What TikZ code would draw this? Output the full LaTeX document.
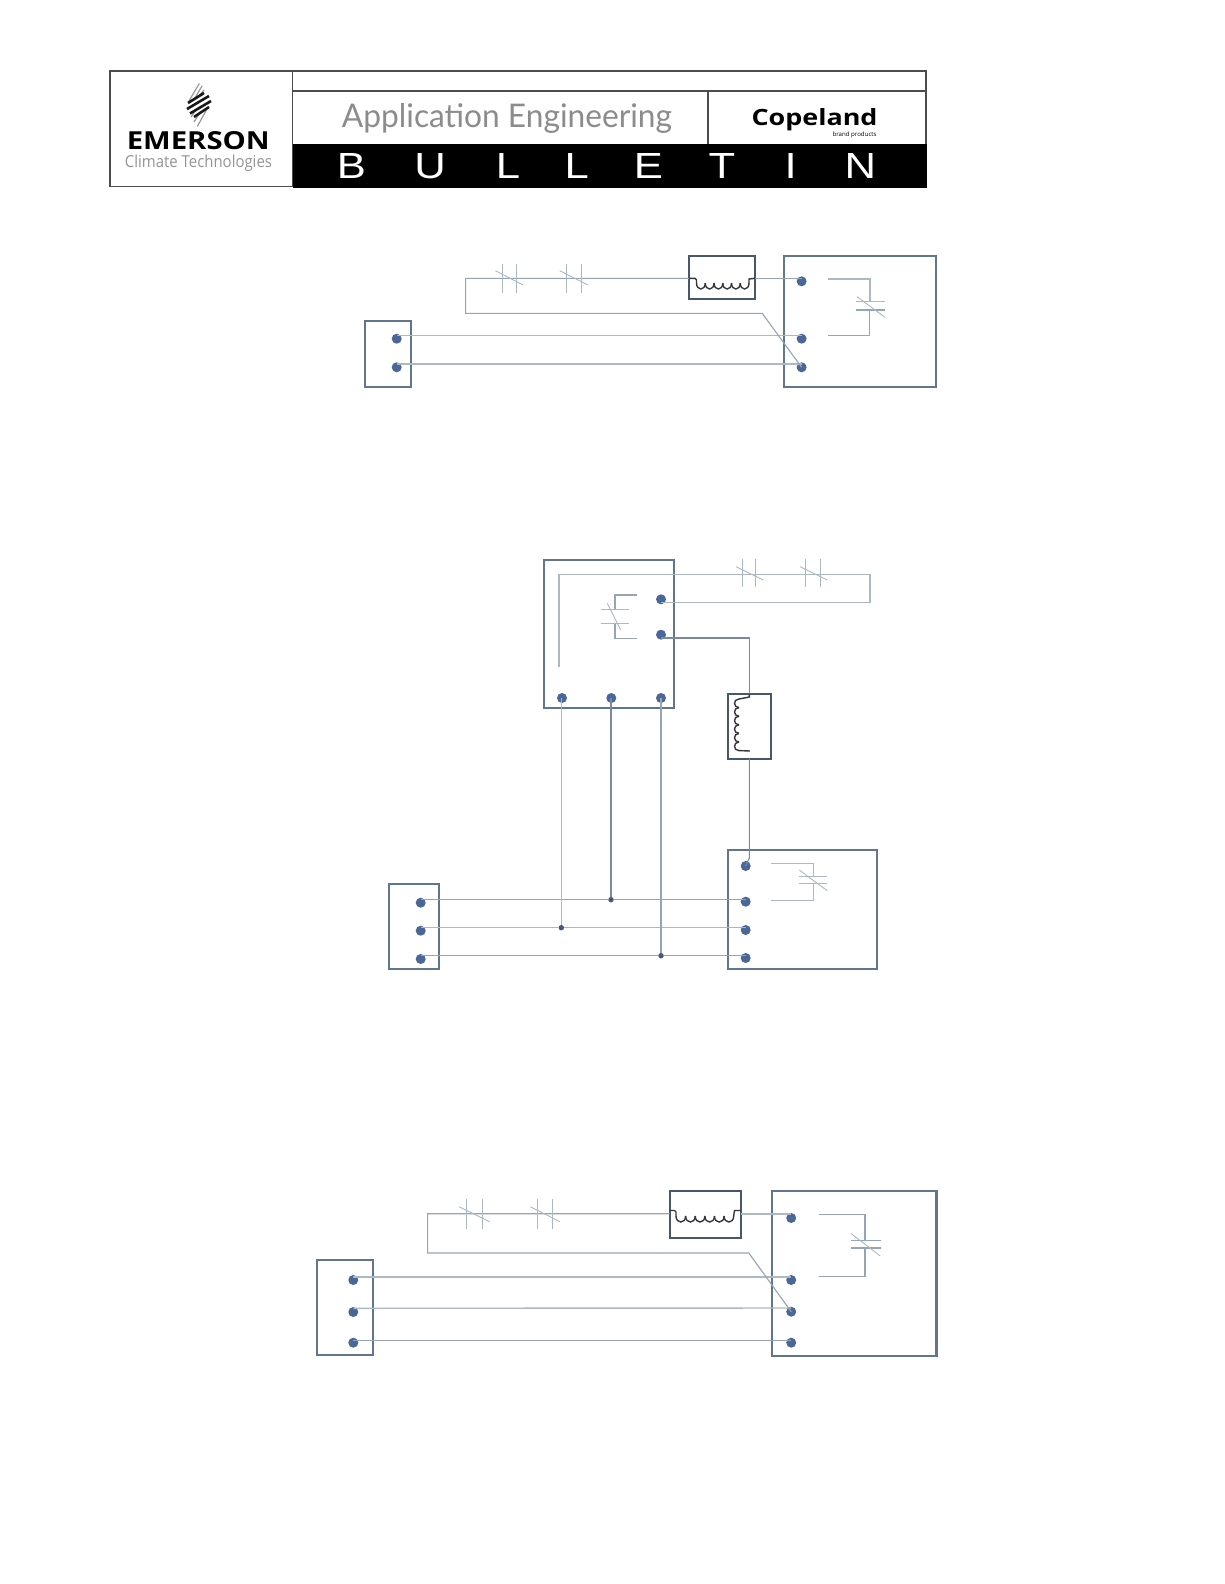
\documentclass[tikz,border=0pt]{standalone}
\usepackage{fontspec}
\setmainfont{Liberation Sans}
\newfontfamily\headfont{Open Sans}
\newfontfamily\lightfont{Lato}
\definecolor{frameblue}{HTML}{5F7590}
\definecolor{wireblue}{HTML}{ABB9C4}
\definecolor{dotblue}{HTML}{4A6798}
\definecolor{juncblue}{HTML}{47597A}
\definecolor{coildark}{HTML}{33373D}
\tikzset{
  boxframe/.style={draw=frameblue,line width=2.2pt,inner sep=0pt,outer sep=0pt,fill=none},
  coilframe/.style={draw=frameblue!75!black,line width=2.2pt,inner sep=0pt,outer sep=0pt},
  wire/.style={draw=wireblue,line width=1.4pt},
  wirethin/.style={draw=wireblue,line width=0.9pt},
  wirehalf/.style={draw=wireblue!70!frameblue,line width=1.1pt},
  coilline/.style={draw=coildark,line width=1.4pt},
  termdot/.style={circle,fill=dotblue,inner sep=0pt,minimum size=10pt,draw=none},
  juncdot/.style={circle,fill=juncblue,inner sep=0pt,minimum size=5.5pt,draw=none},
  headline/.style={draw=black!70,line width=1.2pt},
  headtext/.style={inner sep=0pt,outer sep=0pt,anchor=center},
  logogray/.style={draw=black!40,line width=1.2pt},
  logoblack/.style={draw=black!90,line width=2.6pt},
}
% \boxat{name}{x1}{y1}{x2}{y2}{style}
\newcommand{\boxat}[6]{%
  \pgfmathsetmacro{\bcx}{(#2+#4)/2}\pgfmathsetmacro{\bcy}{(#3+#5)/2}%
  \pgfmathsetmacro{\bw}{#4-#2}\pgfmathsetmacro{\bh}{#5-#3}%
  \node[#6,minimum width=\bw pt,minimum height=\bh pt] (#1) at (\bcx,\bcy) {};}
% series contact: plates at x #1 and #2, y span #3..#4, slash from (#5,#6) to (#7,#8)
\newcommand{\contactV}[8]{%
  \draw[wirethin] (#1,#3) -- (#1,#4);
  \draw[wirethin] (#2,#3) -- (#2,#4);
  \draw[wirethin] (#5,#6) -- (#7,#8);}
% horizontal coil
\newcommand{\coilH}[5]{% x-left-wall, x start, x end, wire y, coil y
  \draw[coilline,rounded corners=1.5pt] (#1,#4) -- (#2,#4) -- (#2,#5);
  \pgfmathsetmacro{\cstep}{(#3-#2)/6}
  \foreach \ci in {0,...,5}{
    \pgfmathsetmacro{\ca}{#2+\ci*\cstep}
    \pgfmathsetmacro{\cb}{\ca+\cstep}
    \draw[coilline] (\ca,#5) .. controls (\ca,#5+8) and (\cb,#5+8) .. (\cb,#5);
  }}
\begin{document}
\begin{tikzpicture}[x=1pt,y=-1pt]
\useasboundingbox (0,0) rectangle (1224,1584);
\fill[white] (0,0) rectangle (1224,1584);

% ===== header =====
\fill[black] (292.5,143.5) rectangle (927,187.5);
\draw[headline] (110,71) rectangle (292.5,186.5);
\draw[headline] (292.5,71) -- (926,71) -- (926,143.5);
\draw[headline,line width=1.6pt] (292.5,91) -- (926,91);
\draw[headline] (708,91) -- (708,143.5);
% logo
\draw[logogray] (199.3,83.5) -- (189,101);
\draw[logogray] (202,86) -- (195,98);
\draw[logogray] (204,90) -- (199,96);
\draw[logogray] (197.3,126.5) -- (207,109);
\draw[logogray] (194,122) -- (201,111);
\draw[logogray] (191,117) -- (196,110);
\draw[logoblack] (188,103) -- (204,93);
\draw[logoblack] (187,109) -- (209,96);
\draw[logoblack] (190,113.5) -- (211,101);
\draw[logoblack] (194,117) -- (209,107);
\node[headtext] (emerson) at (198.3,140.3) {\resizebox{143pt}{18pt}{\headfont\bfseries EMERSON}};
\node[headtext,text=black!42] (climate) at (198.5,163) {\resizebox{147pt}{12.5pt}{\headfont Climate Technologies}};
\node[headtext,text=black!45] (appeng) at (507,118) {\resizebox{330pt}{24pt}{\lightfont Application Engineering}};
\node[headtext] (copeland) at (814.5,119.3) {\resizebox{126pt}{17pt}{\headfont\bfseries Copeland}};
\node[headtext] (brand) at (854.5,134.5) {\resizebox{44pt}{!}{\headfont brand products}};
\foreach \lx/\lt/\ln in {351.4/B/a,430/U/b,508/L/c,576.7/L/d,648.4/E/e,722/T/f,790.7/I/g,860.4/N/h}{
  \node[headtext,text=white] (bul\ln) at (\lx,165.8) {\resizebox{!}{25pt}{\scalebox{1.2}[1]{\lt}}};
}

% ===== diagram 1 =====
\boxat{leftA}{365.3}{320.7}{411.2}{386.7}{boxframe}
\boxat{rightA}{783.6}{256}{936}{386.7}{boxframe}
\boxat{coilA}{689}{256}{755.3}{299.3}{coilframe}
\node[termdot] (la1) at (396.7,338.7) {};
\node[termdot] (la2) at (396.7,367.3) {};
\node[termdot] (ra0) at (801.6,281.3) {};
\node[termdot] (ra1) at (801.6,338.7) {};
\node[termdot] (ra2) at (801.6,367.3) {};
\coordinate (ca1) at (465.6,278.3);
\coordinate (ca2) at (465.6,313.3);
\coordinate (ca3) at (762.2,313.3);
\draw[wire] ([yshift=3.3pt]la1.center) -- ([yshift=3.3pt]ra1.center);
\draw[wire] ([yshift=3.3pt]la2.center) -- ([yshift=3.3pt]ra2.center);
\draw[wirehalf] (coilA.west |- ca1) -- (ca1) -- (ca2) -- (ca3) -- (ra2.center);
\draw[wirehalf] (coilA.east |- ca1) -- ([yshift=3pt]ra0.center);
\contactV{502}{516}{264}{292.7}{495.4}{270.7}{523}{285}
\contactV{566.6}{581.2}{264}{292.7}{559.7}{270.7}{588}{285}
\coilH{689}{696.5}{749}{278.3}{283}
\draw[coilline] (749,283) -- (749,279) -- (755,278.3);
\draw[wire,line width=1.6pt] (827.6,279) -- (869.7,279) -- (869.7,301.7);
\draw[wirehalf] (869.7,310) -- (869.7,335.3) -- (827.6,335.3);
\draw[wire] (856,301.7) -- (885,301.7);
\draw[wirehalf] (856,310) -- (885,310);
\draw[wirethin] (857,296.7) -- (885,317.3);

% ===== diagram 2 =====
\boxat{boxTop}{544}{560}{674}{707.7}{boxframe}
\boxat{boxLow}{728.3}{850}{876.7}{969.3}{boxframe}
\boxat{leftB}{389.3}{884.3}{438.7}{969.3}{boxframe}
\boxat{coilB}{727.7}{694}{771}{758.7}{coilframe}
\node[termdot] (t1) at (661,599.3) {};
\node[termdot] (t2) at (661,634.7) {};
\node[termdot] (b1) at (562,698) {};
\node[termdot] (b2) at (611.3,698) {};
\node[termdot] (b3) at (661,698) {};
\node[termdot] (lb1) at (420.7,902.7) {};
\node[termdot] (lb2) at (420.7,930.7) {};
\node[termdot] (lb3) at (420.7,959) {};
\node[termdot] (rb0) at (745.7,866) {};
\node[termdot] (rb1) at (745.7,901.7) {};
\node[termdot] (rb2) at (745.7,930) {};
\node[termdot] (rb3) at (745.7,958) {};
\node[juncdot] (j1) at (611,899.7) {};
\node[juncdot] (j2) at (561.3,927.7) {};
\node[juncdot] (j3) at (661,955.7) {};
\draw[wirehalf] (lb1.center |- j1) -- (j1) -- (rb1.center |- j1);
\draw[wire] (lb2.center |- j2) -- (j2) -- (rb2.center |- j2);
\draw[wirehalf] (lb3.center |- j3) -- (j3) -- (rb3.center |- j3);
\draw[wire] (j2) -- (j2 |- b1);
\draw[wirehalf,draw=frameblue!85] (j1) -- (j1 |- b2);
\draw[wirehalf] (j3) -- (j3 |- b3);
\coordinate (cb1) at (559,666.7);
\coordinate (cb2) at (559,574.3);
\coordinate (cb3) at (870,574.3);
\coordinate (cb4) at (870,602.3);
\draw[wire] (cb1) -- (cb2) -- (cb3) -- (cb4) -- ([yshift=-3pt]t1.center);
\coordinate (cb5) at (749.3,638);
\draw[wirehalf,draw=frameblue!85] ([yshift=-3.3pt]t2.center) -- (cb5) -- (cb5 |- coilB.north);
\draw[wirehalf,draw=frameblue!85] (cb5 |- coilB.south) -- (749.3,858) -- (rb0.center);
\contactV{742}{755.7}{559.3}{587.3}{736}{566.7}{763.3}{580}
\contactV{805.3}{820}{559.3}{587.3}{800}{566.7}{827.3}{580}
\draw[coilline] (749.3,694) -- (749.3,697) -- (739,699);
\foreach \vi in {0,...,5}{
  \pgfmathsetmacro{\va}{699+\vi*8.6}
  \pgfmathsetmacro{\vb}{\va+8.6}
  \draw[coilline] (739,\va) .. controls (733,\va) and (733,\vb) .. (739,\vb);
}
\draw[coilline] (739,750.6) -- (750,751);
\draw[wirehalf] (636.7,595) -- (615,595) -- (615,609.3);
\draw[wirehalf] (615,623.7) -- (615,638.3) -- (636.7,638.3);
\draw[wirethin] (600.7,609.3) -- (629.3,609.3);
\draw[wirethin] (600.7,623.7) -- (629.3,623.7);
\draw[wirethin] (607.3,603.3) -- (620.7,630);
\draw[wirethin] (770.7,863) -- (813,863) -- (813,876.7);
\draw[wirethin] (813,883.7) -- (813,900) -- (770.7,900);
\draw[wirethin] (799.3,876.7) -- (827.3,876.7);
\draw[wirethin] (799.3,883.7) -- (827.3,883.7);
\draw[wirethin] (799.3,870) -- (827.3,890.7);

% ===== diagram 3 =====
\boxat{leftC}{317.3}{1260}{373.3}{1355}{boxframe}
\boxat{rightC}{771.6}{1190.7}{936.5}{1356}{boxframe}
\boxat{coilC}{669.6}{1190.7}{740.6}{1238}{coilframe}
\node[termdot] (lc1) at (353.3,1280) {};
\node[termdot] (lc2) at (353.3,1312) {};
\node[termdot] (lc3) at (353.3,1342.7) {};
\node[termdot] (rc0) at (791.2,1218) {};
\node[termdot] (rc1) at (791.2,1280) {};
\node[termdot] (rc2) at (791.2,1311.7) {};
\node[termdot] (rc3) at (791.2,1342.7) {};
\coordinate (cc1) at (427.6,1213.7);
\coordinate (cc2) at (427.6,1253);
\coordinate (cc3) at (748.8,1253);
\draw[wire] ([yshift=3pt]lc1.center) -- ([yshift=3pt]rc1.center);
\draw[wire] ([yshift=3.7pt]lc2.center) -- ([yshift=3.7pt]rc2.center);
\draw[wirehalf] ([yshift=2.4pt]lc3.center) -- ([yshift=2.4pt]rc3.center);
\draw[wirehalf] (coilC.west |- cc1) -- (cc1) -- (cc2) -- (cc3) -- (rc2.center);
\draw[wire,line width=1.6pt] (coilC.east |- cc1) -- ([yshift=4.3pt]rc0.center);
\contactV{466.3}{482.2}{1199}{1229}{459}{1206.7}{489.6}{1221.7}
\contactV{537}{552.9}{1199}{1229}{530.4}{1206.7}{559.8}{1221.7}
\coilH{669.6}{676}{733.7}{1210.5}{1216}
\draw[coilline] (733.7,1216) -- (734.5,1210.5) -- (740.6,1210.5);
\draw[wirehalf] (819,1214.7) -- (865,1214.7) -- (865,1240.7);
\draw[wirehalf] (865,1248) -- (865,1276.7) -- (819,1276.7);
\draw[wirehalf] (850.8,1240.7) -- (880.6,1240.7);
\draw[wirehalf] (850.8,1248) -- (880.6,1248);
\draw[wirethin] (850.8,1233.3) -- (880.2,1256);
\end{tikzpicture}
\end{document}
